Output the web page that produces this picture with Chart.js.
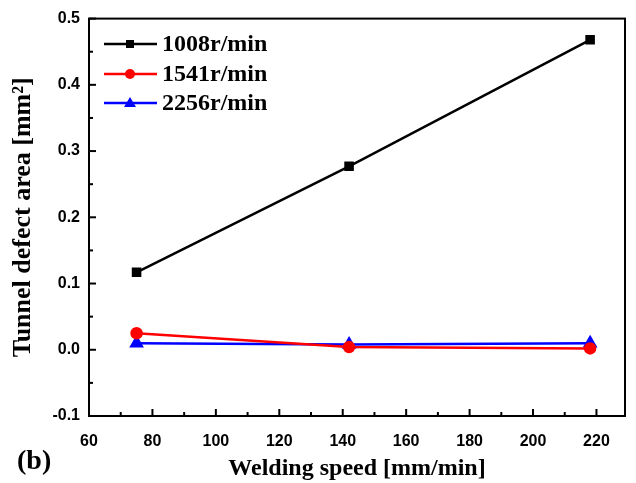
<!DOCTYPE html>
<html>
<head>
<meta charset="utf-8">
<script src="https://cdn.jsdelivr.net/npm/chart.js@4"></script>
<style>
  html, body { margin: 0; padding: 0; background: #fff; }
  #wrap { width: 636px; height: 483px; position: relative; }
</style>
</head>
<body>
<div id="wrap"><canvas id="chart"></canvas></div>
<script>
// data
var speeds = [75, 142, 218];
var seriesNames = ["1008r/min", "1541r/min", "2256r/min"];
var area1008 = [0.117, 0.277, 0.468];
var area1541 = [0.025, 0.004, 0.002];
var area2256 = [0.010, 0.008, 0.010];
var xTicks = [60, 80, 100, 120, 140, 160, 180, 200, 220];
var yTicks = [-0.1, 0.0, 0.1, 0.2, 0.3, 0.4, 0.5];

var colors = ["#000000", "#ff0000", "#0000ff"];
var markers = ["rect", "circle", "triangle"];
var markerSize = [5, 5, 6];
var allSeries = [area1008, area1541, area2256];

function pts(ys) {
    return speeds.map(function (x, i) { return { x: x, y: ys[i] }; });
}

var datasets = allSeries.map(function (ys, i) {
    return {
        label: seriesNames[i],
        data: pts(ys),
        showLine: true,
        borderColor: colors[i],
        backgroundColor: colors[i],
        borderWidth: 2.5,
        pointStyle: markers[i],
        pointRadius: markerSize[i],
        pointHoverRadius: markerSize[i]
    };
});

// frame, inward ticks, legend and panel label
var decor = {
    id: "decor",
    afterDraw: function (chart) {
        var ctx = chart.ctx;
        var a = chart.chartArea;
        var xs = chart.scales.x, ys = chart.scales.y;
        ctx.save();
        ctx.strokeStyle = "#000";
        ctx.lineWidth = 2;
        ctx.strokeRect(a.left, a.top, a.right - a.left, a.bottom - a.top);

        // x ticks (major every 20, minor every 10)
        for (var v = 60; v <= 225; v += 10) {
            var px = xs.getPixelForValue(v);
            var len = (v % 20 === 0) ? 7 : 4;
            ctx.beginPath();
            ctx.moveTo(px, a.bottom);
            ctx.lineTo(px, a.bottom - len);
            ctx.stroke();
        }
        // y ticks (major every 0.1, minor every 0.05)
        for (var k = -2; k <= 10; k++) {
            var py = ys.getPixelForValue(k * 0.05);
            var l = (k % 2 === 0) ? 7 : 4;
            ctx.beginPath();
            ctx.moveTo(a.left, py);
            ctx.lineTo(a.left + l, py);
            ctx.stroke();
        }

        // legend inside the plot
        ctx.font = "bold 24px 'Liberation Serif'";
        ctx.textBaseline = "middle";
        ctx.textAlign = "left";
        var rowY = [44, 74, 103];
        for (var i = 0; i < seriesNames.length; i++) {
            var y = rowY[i];
            ctx.strokeStyle = colors[i];
            ctx.lineWidth = 2.5;
            ctx.beginPath();
            ctx.moveTo(104, y);
            ctx.lineTo(157, y);
            ctx.stroke();
            ctx.fillStyle = colors[i];
            ctx.beginPath();
            if (markers[i] === "rect") {
                ctx.rect(126, y - 4, 8, 8);
            } else if (markers[i] === "circle") {
                ctx.arc(130, y, 5, 0, Math.PI * 2);
            } else {
                ctx.moveTo(130, y - 6);
                ctx.lineTo(136, y + 4);
                ctx.lineTo(124, y + 4);
                ctx.closePath();
            }
            ctx.fill();
            ctx.fillStyle = "#000";
            ctx.fillText(seriesNames[i], 162, y + 1);
        }

        ctx.font = "bold 28px 'Liberation Serif'";
        ctx.fillText("(b)", 17, 462);
        ctx.restore();
    }
};

new Chart(document.getElementById("chart"), {
    type: "scatter",
    data: { datasets: datasets },
    options: {
        responsive: true,
        maintainAspectRatio: false,
        animation: false,
        layout: { padding: { top: 16, right: 11, left: 0, bottom: 0 } },
        plugins: {
            legend: { display: false },
            tooltip: { enabled: false }
        },
        scales: {
            x: {
                type: "linear",
                min: 60,
                max: 229,
                afterBuildTicks: function (s) {
                    s.ticks = xTicks.map(function (v) { return { value: v }; });
                },
                afterFit: function (s) { s.height = 67; },
                grid: { display: false, drawTicks: false },
                border: { display: false },
                ticks: {
                    color: "#000",
                    padding: 16,
                    maxRotation: 0,
                    font: { family: "'Liberation Sans'", weight: "bold", size: 16 }
                },
                title: {
                    display: true,
                    text: "Welding speed [mm/min]",
                    color: "#000",
                    padding: { top: 6, bottom: 0 },
                    font: { family: "'Liberation Serif'", weight: "bold", size: 24 }
                }
            },
            y: {
                min: -0.1,
                max: 0.5,
                afterBuildTicks: function (s) {
                    s.ticks = yTicks.map(function (v) { return { value: v }; });
                },
                afterFit: function (s) { s.width = 89; },
                grid: { display: false, drawTicks: false },
                border: { display: false },
                ticks: {
                    color: "#000",
                    padding: 9,
                    callback: function (v) { return v.toFixed(1); },
                    font: { family: "'Liberation Sans'", weight: "bold", size: 16 }
                },
                title: {
                    display: true,
                    text: "Tunnel defect area [mm\u00b2]",
                    color: "#000",
                    padding: { top: 8, bottom: 0 },
                    font: { family: "'Liberation Serif'", weight: "bold", size: 26 }
                }
            }
        }
    },
    plugins: [decor]
});
</script>
</body>
</html>
